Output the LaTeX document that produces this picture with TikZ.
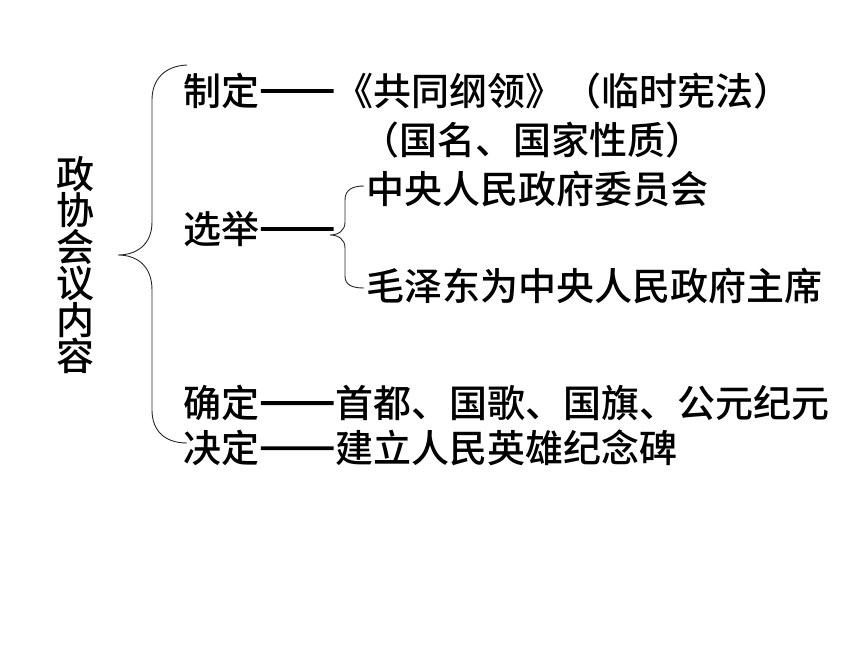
\documentclass[tikz,border=0pt]{standalone}
\usepackage{fontspec}
\newfontfamily\cjk[RawFeature=+fwid]{Noto Sans CJK SC Medium}
\newfontfamily\cjkdash[RawFeature=+fwid,FakeBold=6]{Noto Sans CJK SC}
\newcommand{\dsh}{{\cjkdash ——}}
\tikzset{
  row/.style={anchor=west, inner sep=0pt, font=\cjk\fontsize{38}{38}\selectfont},
  bracepath/.style={draw=black!85, line width=0.9pt},
}
\begin{document}
\begin{tikzpicture}[x=1pt, y=-1pt]
\useasboundingbox (0,0) rectangle (860,645);
% vertical title
\node[inner sep=0pt, align=center, font=\cjk\fontsize{38}{36.5}\selectfont] (title) at (75,265) {政\\协\\会\\议\\内\\容};
% rows
\node[row] (r1) at (183,91) {制定\dsh《共同纲领》（临时宪法）};
\node[row] (r2) at (361,140) {（国名、国家性质）};
\node[row] (r3) at (183,229) {选举\dsh};
\node[row] (r3a) at (366,189) {中央人民政府委员会};
\node[row] (r3b) at (366,286) {毛泽东为中央人民政府主席};
\node[row] (r4) at (183,403) {确定\dsh 首都、国歌、国旗、公元纪元};
\node[row] (r5) at (183,448) {决定\dsh 建立人民英雄纪念碑};
% big brace
\coordinate (btop) at (187,65);
\coordinate (bbot) at (187,443);
\coordinate (btip) at (118,255);
\path[bracepath] (btop) .. controls (164,66) and (152,80) .. (152,100)
  -- (152,222) .. controls (152,245) and (136,255) .. (btip)
  .. controls (136,255) and (152,265) .. (152,290)
  -- (152,410) .. controls (152,430) and (164,443) .. (bbot);
% small brace
\coordinate (stop) at (364,186);
\coordinate (sbot) at (364,288);
\coordinate (stip) at (330,235);
\path[bracepath] (stop) .. controls (352,186) and (345,190) .. (345,200)
  -- (345,222) .. controls (345,231) and (338,235) .. (stip)
  .. controls (338,235) and (345,239) .. (345,248)
  -- (345,276) .. controls (345,285) and (352,288) .. (sbot);
\end{tikzpicture}
\end{document}
